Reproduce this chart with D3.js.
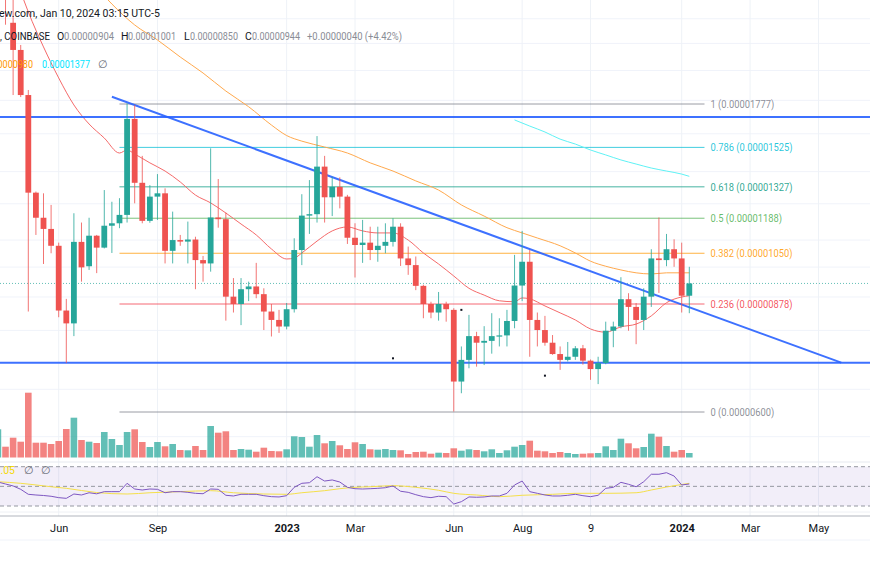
<!DOCTYPE html>
<html><head><meta charset="utf-8">
<script src="https://cdn.jsdelivr.net/npm/d3@7"></script>
<style>
html,body{margin:0;padding:0;background:#fff;overflow:hidden}
svg{display:block;font-family:Roboto,"Noto Sans",sans-serif}
</style></head><body>
<svg id="c" width="870" height="570"></svg>
<script>
// ---------------- DATA (prices in units of 1e-6) ----------------
const PRICE_UNIT = 1e-6;
const firstBar = "2022-04-11";          // first weekly bar (Monday)
const open  = [27.0,30.0,23.66,21.50,18.34,13.00,11.90,11.44,10.78,8.58,8.20,10.93,10.03,11.17,10.71,11.57,11.67,12.02,16.86,13.46,11.77,12.82,12.97,10.59,11.00,10.94,11.02,10.25,10.13,11.91,11.84,9.01,8.78,9.25,9.34,9.09,8.55,8.30,8.11,8.62,10.62,11.99,12.05,14.25,12.79,13.27,12.82,11.09,10.81,10.90,10.62,10.78,10.93,11.53,10.31,10.07,9.36,8.78,8.52,8.78,8.60,6.68,7.21,7.84,7.66,7.71,7.84,7.86,8.27,9.37,10.19,8.30,8.01,7.66,7.36,7.21,7.29,7.51,7.19,6.98,7.13,7.99,8.11,8.93,8.69,8.30,9.01,10.31,10.25,10.65,10.31,9.04];
const high  = [30.5,31.0,26.1,21.88,18.67,13.05,12.97,12.45,10.90,8.94,12.09,11.70,11.90,11.20,13.12,12.59,12.75,17.81,17.71,14.80,13.35,13.88,13.20,12.16,11.20,11.74,11.13,10.40,15.20,13.64,12.12,9.62,9.62,9.50,10.15,9.28,8.78,8.60,8.81,11.07,12.93,13.59,15.87,14.80,13.75,13.72,12.90,11.67,11.81,11.53,11.53,11.67,11.88,11.67,10.75,10.38,9.40,8.85,9.16,8.85,8.65,7.56,8.45,7.96,8.12,8.50,8.35,8.60,10.44,11.36,10.62,8.52,8.42,7.87,7.56,7.68,7.57,7.60,7.22,7.29,8.25,8.25,9.65,9.12,8.81,9.28,10.65,11.91,11.24,11.03,10.90,10.01];
const low   = [26.5,23.5,18.34,18.21,8.55,11.20,10.11,10.50,8.38,7.13,7.84,9.50,9.90,9.79,10.68,10.51,11.47,11.70,12.52,11.67,11.69,11.81,10.13,10.13,10.78,10.13,9.25,9.50,9.84,11.49,8.28,8.52,8.15,8.87,8.96,8.01,7.83,7.93,8.03,8.52,10.07,11.24,11.70,11.70,11.97,12.30,10.85,9.64,10.15,10.25,10.19,10.50,10.75,10.04,9.73,9.22,8.35,8.35,8.28,8.25,6.01,6.41,7.00,7.04,7.08,7.37,7.56,7.56,8.06,8.87,7.29,7.56,7.58,7.34,6.96,7.17,7.21,7.09,6.72,6.62,7.10,7.54,8.06,7.99,7.62,8.01,8.69,9.13,10.03,10.01,8.52,8.50];
const close = [29.5,26.1,21.50,18.34,13.00,11.90,11.44,10.78,8.58,8.20,10.93,9.99,11.17,10.71,11.57,11.67,12.02,16.86,13.46,11.77,12.82,12.97,10.59,11.00,10.94,11.02,10.25,10.13,11.91,11.84,9.01,8.78,9.25,9.34,9.09,8.55,8.30,8.11,8.62,10.62,11.99,12.05,14.25,12.79,13.27,12.82,11.09,10.81,10.90,10.62,10.78,10.93,11.53,10.31,10.07,9.36,8.78,8.52,8.78,8.62,6.68,7.21,7.84,7.66,7.71,7.84,7.86,8.27,9.37,10.19,8.30,8.01,7.66,7.36,7.21,7.29,7.51,7.19,6.98,7.13,7.99,8.11,8.93,8.69,8.30,9.01,10.31,10.25,10.65,10.31,9.04,9.44];
const volume = [28.2,10.8,19.8,15.8,64.8,14.8,14.8,13.5,16.5,28.5,39.8,17.5,15.8,14.5,25.5,18.5,12.5,25.5,28.2,15.5,10.5,15.5,11.2,13.5,7.5,7.2,11.5,7.5,31.5,24.8,26.2,7.5,8.5,7.8,5.8,9.8,6.5,6.2,8.2,21.2,20.5,10.8,22.5,14.2,16.5,12.2,8.5,15.2,13.5,8.2,7.8,8.5,7.5,7.2,3.5,5.5,5.8,3.8,4.8,4.5,9.2,6.8,8.2,7.5,6.2,8.2,4.5,7.2,10.8,12.5,16.8,6.8,6.2,4.5,5.5,4.5,3.5,3.8,4.2,4.5,11.2,7.5,18.8,14.2,9.2,10.5,23.8,20.8,11.5,5.8,7.5,4.5];
const rsi = [54.4,52.4,50.4,47.0,41.9,41.2,40.7,39.9,38.5,37.8,42.2,41.2,43.5,42.4,44.6,44.6,44.6,53.1,47.3,46.3,47.3,47.0,43.5,44.6,44.6,43.9,42.9,42.5,47.3,47.0,40.9,40.2,41.9,41.9,41.9,40.5,39.5,39.2,40.5,49.0,53.1,53.7,59.8,55.4,56.5,54.4,49.0,47.6,47.3,47.6,48.0,48.6,50.4,45.0,43.9,41.5,39.5,38.5,39.9,39.5,32.0,34.4,39.2,38.9,39.2,40.2,40.2,42.9,51.4,55.4,44.6,42.9,41.2,40.2,40.2,40.9,41.9,40.5,39.5,40.9,48.0,49.0,54.1,52.1,49.6,54.7,62.3,62.3,63.9,60.5,51.4,52.4];

// moving averages read at given weeks (week 0 = 2022-06-06)
const anchorWeek = "2022-06-06";
const maRedWeek = [-5,-4,-2,0,2,4,6,8,9,10,12,14,16,18,20,22,24,26,28,30,31,32,34,36,38,40,42,44,46,48,50,52,54,56,58,60,61,62,64,66,68,70,72,74,76,78,80,82,83];
const maRedVal  = [26.4,24.58,21.73,19.48,17.71,16.56,15.76,14.95,15.11,14.90,14.44,14.03,13.50,12.89,12.54,12.10,11.64,11.20,10.66,10.29,10.32,10.51,10.96,11.36,11.52,11.36,11.28,11.28,11.00,10.51,10.11,9.69,9.28,9.06,8.88,8.85,8.97,8.94,8.72,8.51,8.30,8.04,7.95,8.10,8.18,8.42,8.82,9.00,9.04];
const maOrWeek = [6,7,10,13,16,19,22,25,28,30,32,35,38,41,44,47,50,53,56,59,61,63,66,68,70,72,74,76,78,80,83];
const maOrVal  = [26.0,25.28,23.48,22.27,20.97,19.82,18.60,17.60,16.50,15.90,15.59,15.27,14.95,14.44,14.03,13.55,13.12,12.45,11.97,11.49,11.28,11.08,10.78,10.51,10.21,10.03,9.90,9.80,9.76,9.80,9.80];
const maCyWeek = [60,62,64,66,68,70,72,74,76,78,80,82,83];
const maCyVal  = [16.80,16.44,16.10,15.70,15.43,15.11,14.85,14.59,14.38,14.18,14.03,13.88,13.77];
const rsiMaWeek = [-8,-5,-1,1,5,9,12,16,20,23,27,30,32,35,37,39,41,44,47,50,52,55,58,61,65,68,72,76,78,80,83];
const rsiMaVal  = [54.7,53.1,49.6,48.0,43.7,42.2,43.5,44.6,45.6,43.5,42.2,41.9,43.5,45.6,47.6,49.0,49.6,50.7,49.0,46.0,42.9,41.2,39.5,40.9,41.9,42.9,42.9,43.5,46.3,49.3,53.1];

// fibonacci retracement
const fibLevels = [1,0.786,0.618,0.5,0.382,0.236,0];
const fibPrices = [17.77,15.25,13.27,11.88,10.50,8.78,6.00];
const fibWeeks = [8,85];
// drawn lines
const hLinePrices = [16.97,7.14];
const trendWeeks = [7,103];
const trendPrices = [18.23,7.14];
const dotWeeks = [44,53,64];
const dotPrices = [7.25,8.60,6.82];
// axis
const gridPrices = [24,22,20,18,16,14,12.5,11,10,9,8,6.5,5.5];
const tickDates = ["2022-06-06","2022-09-05","2023-01-02","2023-03-06","2023-06-05","2023-08-07","2023-10-09","2024-01-01","2024-03-04","2024-05-06"];
const tickLabels = ["Jun","Sep","2023","Mar","Jun","Aug","9","2024","Mar","May"];
const rsiLevels = [70,50,30];

// ---------------- STYLE ----------------
const UP="#26a69a", DOWN="#ef5350";
const fibColors=["#787b86","#00bcd4","#089981","#4caf50","#ff9800","#f23645","#787b86"];

// ---------------- SCALES ----------------
const utc = s => new Date(s+"T00:00:00Z");
const barDate = k => d3.utcMonday.offset(utc(firstBar), k);
const weekDate = i => d3.utcMonday.offset(utc(anchorWeek), i);
const x = d3.scaleUtc().domain([utc("2022-06-06"), utc("2024-01-01")]).range([58.7, 681.7]);
const y = d3.scaleLog().domain([6.00, 17.77]).range([412, 104]);
const yv = d3.scaleLinear().domain([0, 65]).range([457.5, 392.5]);
const yr = d3.scaleLinear().domain([30, 70]).range([506, 466.7]);
const fmt = v => (v*PRICE_UNIT).toFixed(8);
// compress text horizontally (narrower face in the original)
function squeeze(sel, f){ sel.each(function(){ const w=this.getComputedTextLength(); d3.select(this).attr("textLength",w*f).attr("lengthAdjust","spacingAndGlyphs"); }); }

const svg = d3.select("#c");
svg.append("rect").attr("width",870).attr("height",570).attr("fill","#fff");
const defs = svg.append("defs");
defs.append("clipPath").attr("id","pane").append("rect").attr("x",0).attr("y",0).attr("width",870).attr("height",460);
defs.append("clipPath").attr("id","rpane").append("rect").attr("x",0).attr("y",463).attr("width",870).attr("height",48);

// grid
const g = svg.append("g");
g.selectAll(".hg").data(gridPrices).join("line")
  .attr("x1",0).attr("x2",870).attr("y1",d=>y(d)).attr("y2",d=>y(d))
  .attr("stroke","#f0f3fa").attr("stroke-width",1);
g.selectAll(".vg").data(tickDates).join("line")
  .attr("x1",d=>x(utc(d))).attr("x2",d=>x(utc(d))).attr("y1",0).attr("y2",516)
  .attr("stroke","#eef2f7").attr("stroke-width",1);

// pane separators
[[462,"#e6e9ef"],[512,"#eef0f4"],[516,"#b2b5be"],[540,"#f0f3fa"]].forEach(([yy,c])=>{
  svg.append("line").attr("x1",0).attr("x2",870).attr("y1",yy).attr("y2",yy).attr("stroke",c).attr("stroke-width",yy===516?1.2:1);
});

const pane = svg.append("g").attr("clip-path","url(#pane)");

// volume
pane.selectAll(".vol").data(volume).join("rect")
  .attr("x",(d,k)=>x(barDate(k))-3.3).attr("width",6.6)
  .attr("y",d=>yv(d)).attr("height",d=>yv(0)-yv(d))
  .attr("fill",(d,k)=>close[k]>=open[k]?UP:DOWN).attr("opacity",0.72);

// fib
const fx1 = x(weekDate(fibWeeks[0])), fx2 = x(weekDate(fibWeeks[1]));
fibPrices.forEach((p,k)=>{
  pane.append("line").attr("x1",fx1).attr("x2",fx2).attr("y1",y(p)).attr("y2",y(p))
    .attr("stroke",fibColors[k]).attr("stroke-opacity",0.75).attr("stroke-width",1);
  pane.append("text").attr("class","fibt").attr("x",fx2+6).attr("y",y(p)).attr("dy","0.35em")
    .attr("font-size",10.5).attr("fill",fibColors[k]).attr("fill-opacity",0.85)
    .text(`${fibLevels[k]} (${fmt(p)})`);
});
squeeze(pane.selectAll(".fibt"), 0.89);

// current price dotted line
pane.append("line").attr("x1",0).attr("x2",870).attr("y1",y(close[close.length-1])).attr("y2",y(close[close.length-1]))
  .attr("stroke",UP).attr("stroke-width",1).attr("stroke-dasharray","1 2").attr("opacity",0.7);

// moving averages
const maLine = d3.line().x(d=>x(weekDate(d[0]))).y(d=>y(d[1])).curve(d3.curveMonotoneX);
pane.append("path").attr("d",maLine(maOrWeek.map((w,k)=>[w,maOrVal[k]]))).attr("fill","none").attr("stroke","#ffa94d").attr("stroke-width",1);
pane.append("path").attr("d",maLine(maCyWeek.map((w,k)=>[w,maCyVal[k]]))).attr("fill","none").attr("stroke","#5ff2f5").attr("stroke-width",1);
pane.append("path").attr("d",maLine(maRedWeek.map((w,k)=>[w,maRedVal[k]]))).attr("fill","none").attr("stroke","#f56a6a").attr("stroke-width",1);

// blue drawings
hLinePrices.forEach(p=>{
  pane.append("line").attr("x1",0).attr("x2",870).attr("y1",y(p)).attr("y2",y(p)).attr("stroke","#2962ff").attr("stroke-width",2).attr("opacity",0.9);
});
pane.append("line")
  .attr("x1",x(weekDate(trendWeeks[0]))).attr("y1",y(trendPrices[0]))
  .attr("x2",x(weekDate(trendWeeks[1]))).attr("y2",y(trendPrices[1]))
  .attr("stroke","#2962ff").attr("stroke-width",2).attr("opacity",0.9);

// candles
const cg = pane.append("g");
open.forEach((o,k)=>{
  const cx = x(barDate(k)), c = close[k], col = c>=o?UP:DOWN;
  cg.append("line").attr("x1",cx).attr("x2",cx).attr("y1",y(high[k])).attr("y2",y(low[k])).attr("stroke",col).attr("stroke-width",1).attr("stroke-opacity",0.8);
  const top = y(Math.max(o,c)), bot = y(Math.min(o,c));
  cg.append("rect").attr("x",cx-2.9).attr("width",5.8).attr("y",top).attr("height",Math.max(1.2,bot-top)).attr("fill",col);
});
// small marks
pane.selectAll(".dot").data(dotWeeks).join("rect")
  .attr("x",(d)=>x(weekDate(d))-1).attr("y",(d,k)=>y(dotPrices[k])-1).attr("width",2).attr("height",2).attr("fill","#131722");

// RSI pane
const rp = svg.append("g").attr("clip-path","url(#rpane)");
rp.append("rect").attr("x",0).attr("width",870).attr("y",yr(70)).attr("height",yr(30)-yr(70)).attr("fill","#7e57c2").attr("opacity",0.1);
rsiLevels.forEach(l=>{
  rp.append("line").attr("x1",0).attr("x2",870).attr("y1",yr(l)).attr("y2",yr(l)).attr("stroke","#9598a1").attr("stroke-dasharray","4 3").attr("stroke-width",1);
});
rp.append("path").attr("d",d3.line().x(d=>x(weekDate(d[0]))).y(d=>yr(d[1])).curve(d3.curveMonotoneX)(rsiMaWeek.map((w,k)=>[w,rsiMaVal[k]])))
  .attr("fill","none").attr("stroke","#f5e04a").attr("stroke-width",1);
rp.append("path").attr("d",d3.line().x((d,k)=>x(barDate(k))).y(d=>yr(d))(rsi))
  .attr("fill","none").attr("stroke","#7e57c2").attr("stroke-width",1);

// x axis
const ax = svg.append("g").attr("transform","translate(0,516)")
  .call(d3.axisBottom(x).tickValues(tickDates.map(utc)).tickFormat((d,k)=>tickLabels[k]).tickSize(0).tickPadding(8));
ax.select(".domain").remove();
ax.selectAll("text").attr("font-size",11).attr("fill","#131722").attr("font-family","Roboto,sans-serif")
  .attr("font-weight",(d,k)=>/^\d{4}$/.test(tickLabels[k])?"bold":"normal");

// header
const hd = svg.append("g").attr("font-size",10.5);
hd.append("text").attr("x",-1).attr("y",17).attr("fill","#131722").text("ew.com, Jan 10, 2024 03:15 UTC-5");
const L = open.length-1;
const chg = close[L]-close[L-1];
const pieces = [
  [0, ", COINBASE", "#131722", 50],
  [57, "O", "#131722", 0],[64, fmt(open[L]), "#8a8d96", 50],
  [121,"H","#131722", 0],[128, fmt(high[L]), "#8a8d96", 48],
  [184,"L","#131722", 0],[190, fmt(low[L]), "#8a8d96", 48],
  [245,"C","#131722", 0],[252, fmt(close[L]), "#8a8d96", 48],
  [307, `+${fmt(chg)} (+${(chg/close[L-1]*100).toFixed(2)}%)`, "#8a8d96", 95]
];
pieces.forEach(([px,t,c,w])=>{
  const tx = hd.append("text").attr("x",px).attr("y",40).attr("fill",c).text(t);
  if (w) tx.attr("textLength",w).attr("lengthAdjust","spacingAndGlyphs");
});
hd.append("text").attr("x",33).attr("y",68).attr("text-anchor","end").attr("fill","#ff9800").text(fmt(maOrVal[maOrVal.length-1]))
  .attr("textLength",48).attr("lengthAdjust","spacingAndGlyphs");
hd.append("text").attr("x",42).attr("y",68).attr("fill","#00e5ff").text(fmt(maCyVal[maCyVal.length-1]))
  .attr("textLength",48).attr("lengthAdjust","spacingAndGlyphs");
hd.append("text").attr("x",98).attr("y",68).attr("fill","#6a6d78").text("∅");
// rsi legend
hd.append("text").attr("x",15).attr("y",474).attr("text-anchor","end").attr("fill","#f5d90a").text((rsiMaVal[rsiMaVal.length-1]-0.05).toFixed(2));
hd.append("text").attr("x",24).attr("y",474).attr("fill","#6a6d78").text("∅");
hd.append("text").attr("x",41).attr("y",474).attr("fill","#6a6d78").text("∅");
</script>
</body></html>
